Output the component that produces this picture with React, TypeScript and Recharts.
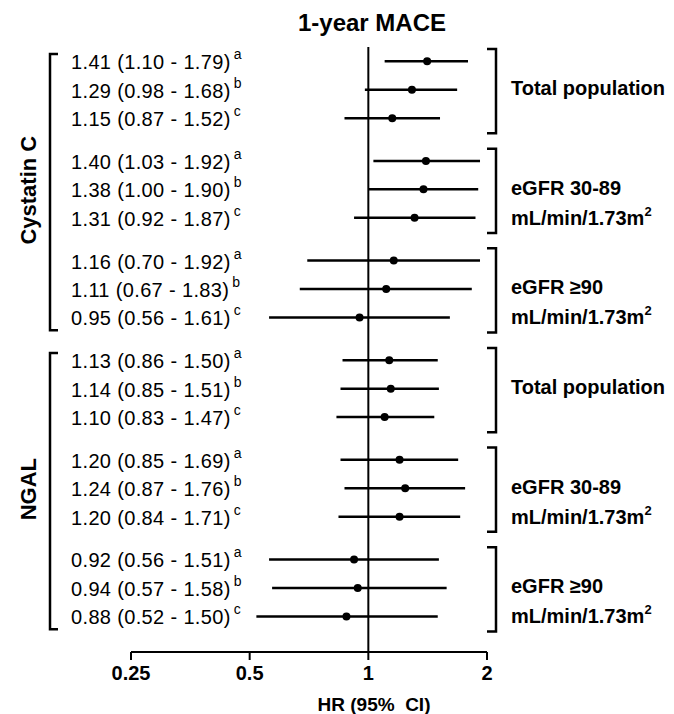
import React from 'react';
import { ScatterChart, Scatter, XAxis, YAxis, ErrorBar, ReferenceLine, ReferenceArea } from 'recharts';

const FONT = '"Liberation Sans", Arial, Helvetica, sans-serif';

// ---- data ----
const chartTitle = '1-year MACE';
const xAxisTitle = 'HR (95%\u00A0 CI)';
const markers = ['Cystatin C', 'NGAL'];
const subgroupLabels = ['Total population', 'eGFR 30-89', 'eGFR \u226590'];
const unitLabel = 'mL/min/1.73m';
const models = ['a', 'b', 'c'];
const hrValues = [1.41, 1.29, 1.15, 1.40, 1.38, 1.31, 1.16, 1.11, 0.95, 1.13, 1.14, 1.10, 1.20, 1.24, 1.20, 0.92, 0.94, 0.88];
const lowerCI = [1.10, 0.98, 0.87, 1.03, 1.00, 0.92, 0.70, 0.67, 0.56, 0.86, 0.85, 0.83, 0.85, 0.87, 0.84, 0.56, 0.57, 0.52];
const upperCI = [1.79, 1.68, 1.52, 1.92, 1.90, 1.87, 1.92, 1.83, 1.61, 1.50, 1.51, 1.47, 1.69, 1.76, 1.71, 1.51, 1.58, 1.50];
const xTicks = [0.25, 0.5, 1, 2];

// ---- table built from the arrays ----
const rows = hrValues.map((hr, i) => ({
  hr,
  lo: lowerCI[i],
  hi: upperCI[i],
  model: models[i % 3],
  pos: i + 0.5 * Math.floor(i / 3),
  err: [hr - lowerCI[i], upperCI[i] - hr],
}));

const fmt = (v: number) => v.toFixed(2);

const PointShape = (props: any) => {
  const { cx, cy, payload } = props;
  if (cx == null || cy == null) return null;
  return (
    <g>
      <circle cx={cx} cy={cy} r={4} fill="#000" />
      <text x={71} y={cy + 8} fontSize={20} letterSpacing={0.35} fill="#000" fontFamily={FONT}>
        {`${fmt(payload.hr)} (${fmt(payload.lo)} - ${fmt(payload.hi)})`}
        <tspan dx={3} dy={-10} fontSize={14}>{payload.model}</tspan>
      </text>
    </g>
  );
};

const LeftBracket = (props: any) => {
  const { y, height, label } = props;
  if (y == null) return null;
  const mid = y + height / 2;
  return (
    <g>
      <path d={`M58 ${y} H50 V${y + height} H58`} stroke="#000" strokeWidth={2.5} fill="none" />
      <text
        transform={`translate(28 ${mid - 2}) rotate(-90)`}
        textAnchor="middle"
        dy={7.5}
        fontWeight="bold"
        fontSize={22}
        fill="#000"
        fontFamily={FONT}
      >
        {label}
      </text>
    </g>
  );
};

const RightBracket = (props: any) => {
  const { y, height, label, twoLines } = props;
  if (y == null) return null;
  const mid = y + height / 2;
  return (
    <g>
      <path d={`M487 ${y} H496 V${y + height} H487`} stroke="#000" strokeWidth={2.5} fill="none" />
      <text x={511} y={mid - 3 + 7} fontWeight="bold" fontSize={20} fill="#000" fontFamily={FONT}>
        {label}
      </text>
      {twoLines ? (
        <text x={511} y={mid + 27 + 7} fontWeight="bold" fontSize={20} fill="#000" fontFamily={FONT}>
          {unitLabel}
          <tspan dy={-9} fontSize={13}>2</tspan>
        </text>
      ) : null}
    </g>
  );
};

export default function App() {
  return (
    <div style={{ position: 'absolute', left: 0, top: 0, width: 674, height: 714, background: '#fff' }}>
      <ScatterChart
        width={674}
        height={714}
        margin={{ top: 47, right: 187, bottom: 32, left: 131 }}
        style={{ fontFamily: FONT }}
      >
        <XAxis
          type="number"
          dataKey="hr"
          scale="log"
          domain={[0.25, 2]}
          ticks={xTicks}
          tickFormatter={(v: number) => String(v)}
          height={30}
          tickSize={8}
          tickMargin={6}
          axisLine={{ stroke: '#000', strokeWidth: 2 }}
          tickLine={{ stroke: '#000', strokeWidth: 2 }}
          tick={{ fill: '#000', fontSize: 20, fontWeight: 'bold', fontFamily: FONT }}
        />
        <YAxis type="number" dataKey="pos" domain={[-0.5, 20.75]} reversed hide width={0} />
        <ReferenceLine x={1} stroke="#000" strokeWidth={2} />
        {markers.map((m, mi) => (
          <ReferenceArea
            key={m}
            y1={rows[mi * 9].pos - 0.25}
            y2={rows[mi * 9 + 8].pos + 0.45}
            ifOverflow="visible"
            shape={(p: any) => <LeftBracket {...p} label={m} />}
          />
        ))}
        {markers.map((m, mi) =>
          subgroupLabels.map((s, si) => (
            <ReferenceArea
              key={`${m}-${s}`}
              y1={rows[mi * 9 + si * 3].pos - 0.43}
              y2={rows[mi * 9 + si * 3 + 2].pos + 0.53}
              ifOverflow="visible"
              shape={(p: any) => <RightBracket {...p} label={s} twoLines={si > 0} />}
            />
          ))
        )}
        <Scatter data={rows} isAnimationActive={false} shape={PointShape}>
          <ErrorBar dataKey="err" direction="x" width={0} stroke="#000" strokeWidth={2.5} isAnimationActive={false} />
        </Scatter>
        <text x={372} y={31} textAnchor="middle" fontWeight="bold" fontSize={24} fill="#000" fontFamily={FONT}>
          {chartTitle}
        </text>
        <text x={374} y={711} textAnchor="middle" fontWeight="bold" fontSize={19} fill="#000" fontFamily={FONT}>
          {xAxisTitle}
        </text>
      </ScatterChart>
    </div>
  );
}
